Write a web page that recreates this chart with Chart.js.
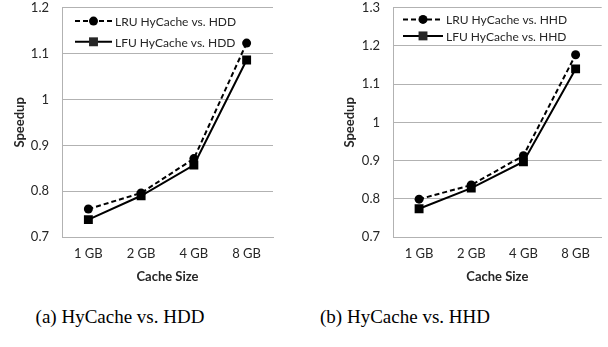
<!DOCTYPE html>
<html>
<head>
<meta charset="utf-8">
<script src="https://cdn.jsdelivr.net/npm/chart.js@4.4.1/dist/chart.umd.min.js"></script>
<style>
    body { margin: 0; background: #fff; width: 608px; height: 347px; position: relative; overflow: hidden; }
    .panel { position: absolute; top: -13px; height: 303px; }
    #wrap-a { left: 0; width: 300px; }
    #wrap-b { left: 300px; width: 308px; }
    .cap { position: absolute; top: 306px; font-family: "Liberation Serif", "Times New Roman", serif; font-size: 19px; color: #000; transform: translateX(-50%); white-space: nowrap; }
</style>
</head>
<body>
<div class="panel" id="wrap-a"><canvas id="chart-a" width="300" height="303"></canvas></div>
<div class="panel" id="wrap-b"><canvas id="chart-b" width="308" height="303"></canvas></div>
<div class="cap" style="left:120px">(a) HyCache vs. HDD</div>
<div class="cap" style="left:405px">(b) HyCache vs. HHD</div>

<script>
// --- data ---
const cacheSizes = ['1 GB', '2 GB', '4 GB', '8 GB'];

const lruVsHdd = [0.761, 0.796, 0.871, 1.123];
const lfuVsHdd = [0.738, 0.790, 0.857, 1.086];

const lruVsHhd = [0.799, 0.836, 0.913, 1.177];
const lfuVsHhd = [0.774, 0.828, 0.897, 1.140];

const labelsA = ['LRU HyCache vs. HDD', 'LFU HyCache vs. HDD'];
const labelsB = ['LRU HyCache vs. HHD', 'LFU HyCache vs. HHD'];

const FONT = 'Lato, "Open Sans", sans-serif';
const GRID = '#b2b2b2';
const TEXT = '#262626';

// legend drawn inside the plot, line sample with marker in the middle
const insideLegend = {
    id: 'insideLegend',
    afterDraw(chart, args, opts) {
        const ctx = chart.ctx;
        const area = chart.chartArea;
        const x0 = area.left + opts.x;
        const x1 = x0 + opts.lineLen;
        ctx.save();
        chart.data.datasets.forEach((ds, i) => {
            const y = area.top + opts.y + i * opts.rowGap;
            ctx.strokeStyle = ds.borderColor;
            ctx.lineWidth = ds.borderWidth;
            ctx.setLineDash(ds.borderDash || []);
            ctx.beginPath();
            ctx.moveTo(x0, y);
            ctx.lineTo(x1, y);
            ctx.stroke();
            ctx.setLineDash([]);
            Chart.helpers.drawPoint(ctx, {
                pointStyle: ds.pointStyle,
                radius: ds.pointRadius,
                borderWidth: 0
            }, (x0 + x1) / 2, y);
            ctx.fillStyle = TEXT;
            ctx.font = '12px ' + FONT;
            ctx.textBaseline = 'middle';
            ctx.textAlign = 'left';
            ctx.fillText(ds.label, x1 + 3, y + 1);
        });
        ctx.restore();
    }
};

function makeChart(canvasId, lru, lfu, names, yMin, yMax, axisW, padRight, titlePad, legendOpts) {
    const black = '#000';
    return new Chart(document.getElementById(canvasId), {
        type: 'line',
        data: {
            labels: cacheSizes,
            datasets: [
                {
                    label: names[0],
                    data: lru,
                    borderColor: black,
                    backgroundColor: black,
                    borderWidth: 2,
                    borderDash: [5, 3],
                    pointStyle: 'circle',
                    pointRadius: 4.5,
                    pointBorderWidth: 0,
                    tension: 0,
                    fill: false
                },
                {
                    label: names[1],
                    data: lfu,
                    borderColor: black,
                    backgroundColor: black,
                    borderWidth: 2,
                    pointStyle: 'rect',
                    pointRadius: 6.3,
                    pointBorderWidth: 0,
                    tension: 0,
                    fill: false
                }
            ]
        },
        options: {
            responsive: false,
            animation: false,
            events: [],
            layout: { padding: { top: 7, right: padRight, left: 0, bottom: 0 } },
            plugins: {
                legend: { display: false },
                tooltip: { enabled: false },
                insideLegend: legendOpts
            },
            scales: {
                x: {
                    offset: true,
                    grid: { display: false, drawTicks: false },
                    border: { display: true, color: GRID, width: 1 },
                    ticks: { color: TEXT, padding: 9, font: { family: FONT, size: 13 } },
                    title: { display: true, text: 'Cache Size', color: TEXT, padding: { top: 0, bottom: 5 }, font: { family: FONT, size: 13, weight: 'bold' } },
                    afterFit: s => { s.height = 53; }
                },
                y: {
                    min: yMin,
                    max: yMax,
                    grid: { color: GRID, lineWidth: 1, drawTicks: false },
                    border: { display: true, color: GRID, width: 1 },
                    ticks: {
                        stepSize: 0.1,
                        padding: 13,
                        color: TEXT,
                        font: { family: FONT, size: 13 },
                        callback: v => String(Number(v.toFixed(1)))
                    },
                    title: { display: true, text: 'Speedup', color: TEXT, padding: { top: titlePad, bottom: 0 }, font: { family: FONT, size: 13, weight: 'bold' } },
                    afterFit: s => { s.width = axisW; }
                }
            }
        },
        plugins: [insideLegend]
    });
}

makeChart('chart-a', lruVsHdd, lfuVsHdd, labelsA, 0.7, 1.2, 62, 27, 12,
    { x: 13, lineLen: 37, y: 13.3, rowGap: 20.7 });
makeChart('chart-b', lruVsHhd, lfuVsHhd, labelsB, 0.7, 1.3, 93, 4, 42,
    { x: 10, lineLen: 40, y: 11.6, rowGap: 16.5 });
</script>
</body>
</html>
